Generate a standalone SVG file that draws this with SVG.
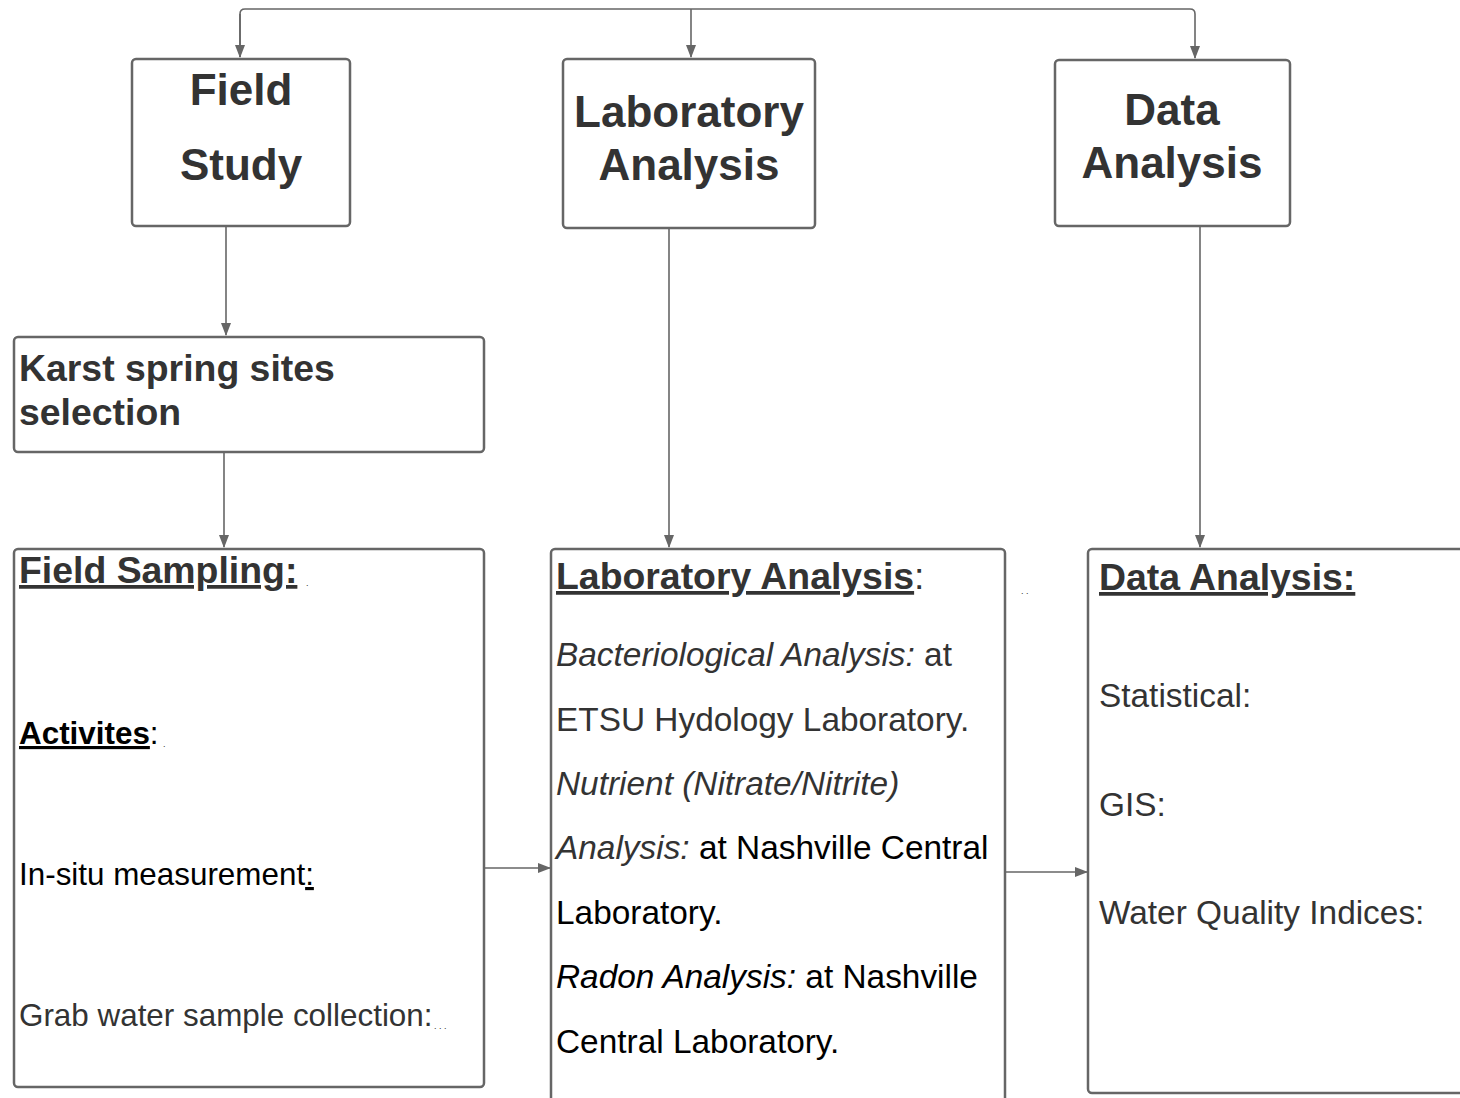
<svg xmlns="http://www.w3.org/2000/svg" width="1460" height="1098" viewBox="0 0 1460 1098">
<style>
.box{fill:#fff;stroke:#666;stroke-width:2.5}
.con{fill:none;stroke:#666;stroke-width:1.6}
text{font-family:"Liberation Sans",Arial,sans-serif}
.big{font-size:44px;font-weight:bold;fill:#333;text-anchor:middle}
.hd{font-size:37.4px;font-weight:bold;fill:#333}
.t{font-size:33.4px;fill:#333}
.t31{font-size:31.4px}
.k{fill:#000}
.i{font-style:italic}
.n{font-weight:normal}
.u{text-decoration:underline}
.dot{font-size:9px;fill:#333}
</style>
<defs>
<marker id="ah" markerWidth="13" markerHeight="10" refX="12" refY="5" orient="auto" markerUnits="userSpaceOnUse">
<path d="M0,0 L13,5 L0,10 Z" fill="#666"/>
</marker>
</defs>
<rect width="1460" height="1098" fill="#fff"/>
<g id="connectors">
<path class="con" d="M240,57 V14 Q240,9 245,9 H1190 Q1195,9 1195,14 V58" marker-end="url(#ah)"/>
<path class="con" d="M240,14 V57" marker-end="url(#ah)"/>
<path class="con" d="M691,9 V57" marker-end="url(#ah)"/>
<path class="con" d="M226,227 V335" marker-end="url(#ah)"/>
<path class="con" d="M224,453 V547" marker-end="url(#ah)"/>
<path class="con" d="M669,229 V547" marker-end="url(#ah)"/>
<path class="con" d="M1200,227 V547" marker-end="url(#ah)"/>
<path class="con" d="M485,868 H550" marker-end="url(#ah)"/>
<path class="con" d="M1006,872 H1087" marker-end="url(#ah)"/>
</g>
<g id="field-study">
<rect class="box" x="132" y="59" width="218" height="167" rx="4"/>
<text class="big" x="241" y="105">Field</text>
<text class="big" x="241" y="180">Study</text>
</g>
<g id="laboratory-analysis">
<rect class="box" x="563" y="59" width="252" height="169" rx="4"/>
<text class="big" x="689" y="127">Laboratory</text>
<text class="big" x="689" y="180">Analysis</text>
</g>
<g id="data-analysis">
<rect class="box" x="1055" y="60" width="235" height="166" rx="4"/>
<text class="big" x="1172" y="125">Data</text>
<text class="big" x="1172" y="178">Analysis</text>
</g>
<g id="karst-selection">
<rect class="box" x="14" y="337" width="470" height="115" rx="4"/>
<text class="hd" x="19" y="381">Karst spring sites</text>
<text class="hd" x="19" y="425">selection</text>
</g>
<g id="field-sampling">
<rect class="box" x="14" y="549" width="470" height="538" rx="4"/>
<text class="hd" x="19" y="583"><tspan class="u">Field Sampling:</tspan></text>
<text class="dot" x="306" y="586">.</text>
<text class="t t31 k" x="19" y="744" font-weight="bold"><tspan class="u">Activites</tspan><tspan class="n">:</tspan></text>
<text class="dot" x="163" y="747">.</text>
<text class="t t31 k" x="19" y="885">In-situ measurement<tspan class="u">:</tspan></text>
<text class="t t31" x="19" y="1026">Grab water sample collection:</text>
<text class="dot" x="434" y="1029">. . .</text>
</g>
<g id="laboratory-details">
<rect class="box" x="551" y="549" width="454" height="570" rx="4"/>
<text class="hd" x="556" y="589"><tspan class="u">Laboratory Analysis</tspan><tspan class="n">:</tspan></text>
<text class="t" x="556" y="666"><tspan class="i">Bacteriological Analysis:</tspan> at</text>
<text class="t" x="556" y="731">ETSU Hydology Laboratory.</text>
<text class="t i" x="556" y="795">Nutrient (Nitrate/Nitrite)</text>
<text class="t" x="556" y="859"><tspan class="i">Analysis:</tspan><tspan class="k"> at Nashville Central</tspan></text>
<text class="t k" x="556" y="924">Laboratory.</text>
<text class="t k" x="556" y="988"><tspan class="i">Radon Analysis:</tspan> at Nashville</text>
<text class="t k" x="556" y="1053">Central Laboratory.</text>
<text class="dot" x="1021" y="594">. .</text>
</g>
<g id="data-details">
<rect class="box" x="1088" y="549" width="400" height="544" rx="4"/>
<text class="hd" x="1099" y="590"><tspan class="u">Data Analysis:</tspan></text>
<text class="t" x="1099" y="707">Statistical:</text>
<text class="t" x="1099" y="816">GIS:</text>
<text class="t" x="1099" y="924">Water Quality Indices:</text>
</g>
</svg>
